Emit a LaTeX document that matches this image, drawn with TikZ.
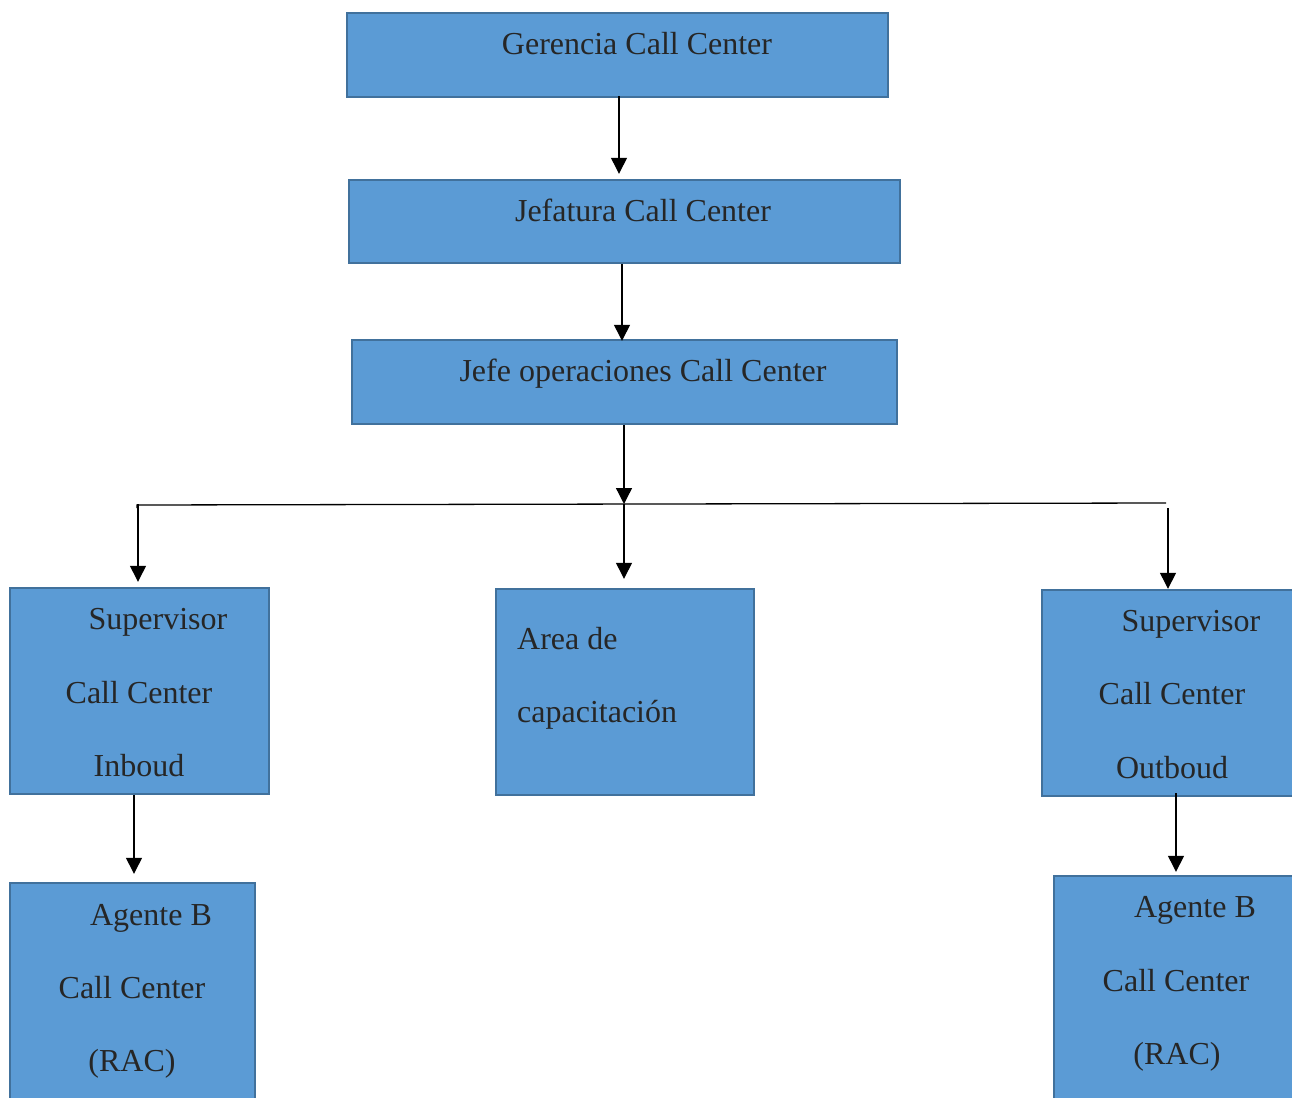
\documentclass[tikz,border=0pt]{standalone}
\usepackage{fontspec}
\setmainfont{Liberation Serif}
\usetikzlibrary{arrows.meta}
\definecolor{boxfill}{HTML}{5B9BD5}
\definecolor{boxline}{HTML}{41719C}
\definecolor{txt}{HTML}{262626}
\begin{document}
\begin{tikzpicture}[x=1pt,y=-1pt,
  box/.style={draw=boxline,fill=boxfill,line width=2.4pt,inner sep=0pt},
  lbl/.style={anchor=base,text=txt,inner sep=0pt,font=\fontsize{32}{38}\selectfont},
  lblw/.style={lbl,anchor=base west},
  arr/.style={line width=1.3pt,-{Triangle[width=16pt,length=16pt]}},
  ln/.style={line width=1.3pt}]
\useasboundingbox (0,0) rectangle (1292,1097);
\clip (0,0) rectangle (1292,1097);
% boxes
\node[box,minimum width=541pt,minimum height=84pt] (ger) at (617.5,55) {};
\node[box,minimum width=551pt,minimum height=83pt] (jef) at (624.5,221.5) {};
\node[box,minimum width=545pt,minimum height=84pt] (ope) at (624.5,382) {};
\node[box,minimum width=259pt,minimum height=206pt] (supi) at (139.5,691) {};
\node[box,minimum width=258pt,minimum height=206pt] (area) at (625,692) {};
\node[box,minimum width=270pt,minimum height=206pt] (supo) at (1177,693) {};
\node[box,minimum width=245pt,minimum height=240pt] (agi) at (132.5,1003) {};
\node[box,minimum width=250pt,minimum height=240pt] (ago) at (1179,996) {};
% texts
\node[lbl] (tger) at (637,55) {Gerencia Call Center};
\node[lbl] (tjef) at (643,221) {Jefatura Call Center};
\node[lbl] (tope) at (643,381) {Jefe operaciones Call Center};
\node[lbl] (si1) at (158,629) {Supervisor};
\node[lbl] (si2) at (139,703) {Call Center};
\node[lbl] (si3) at (139,776) {Inboud};
\node[lblw] (ar1) at (517,649) {Area de};
\node[lblw] (ar2) at (517,722) {capacitación};
\node[lbl] (so1) at (1191,631) {Supervisor};
\node[lbl] (so2) at (1172,704) {Call Center};
\node[lbl] (so3) at (1172,778) {Outboud};
\node[lbl] (ai1) at (151,925) {Agente B};
\node[lbl] (ai2) at (132,998) {Call Center};
\node[lbl] (ai3) at (132,1071) {(RAC)};
\node[lbl] (ao1) at (1195,917) {Agente B};
\node[lbl] (ao2) at (1176,991) {Call Center};
\node[lbl] (ao3) at (1177,1064) {(RAC)};
% bus coordinates
\coordinate (busL) at (137,505);
\coordinate (busM) at (624,504);
\coordinate (busR) at (1166,503);
\coordinate (inTop) at (138,504);
\coordinate (outTop) at (1168,508);
% connectors
\draw[arr,shorten >=5pt] ([xshift=1.5pt,yshift=2pt]ger.south) -- ([xshift=1.5pt]ger.south |- jef.north);
\draw[arr,shorten >=-2pt] ([xshift=-2.5pt]jef.south) -- ([xshift=-2.5pt]jef.south |- ope.north);
\draw[arr] ([xshift=-0.5pt]ope.south) -- (busM);
\draw[ln] ([yshift=-3pt]busL) -- (busL) -- (busR);
\draw[arr,shorten >=5pt] (inTop) -- (inTop |- supi.north);
\draw[arr,shorten >=9pt] (busM) -- (busM |- area.north);
\draw[arr] (outTop) -- (outTop |- supo.north);
\draw[arr,shorten >=8pt] ([xshift=-5.5pt]supi.south) -- ([xshift=-5.5pt]supi.south |- agi.north);
\draw[arr,shorten >=3pt] ([xshift=-1pt,yshift=4pt]supo.south) -- ([xshift=-1pt]supo.south |- ago.north);
\end{tikzpicture}
\end{document}
